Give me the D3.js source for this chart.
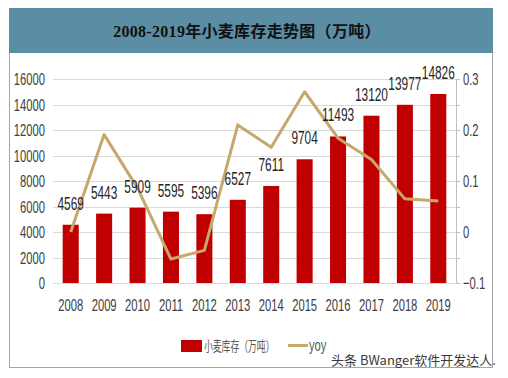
<!DOCTYPE html>
<html>
<head>
<meta charset="utf-8">
<script src="https://cdn.jsdelivr.net/npm/d3@7"></script>
<style>
  html, body { margin: 0; padding: 0; background: #fff; }
  svg { display: block; }
</style>
</head>
<body>
<div id="chart"></div>
<script>
/* wheat stock 2008-2019: bars (万吨) + yoy line on right axis */

const YEARS  = ['2008', '2009', '2010', '2011', '2012', '2013', '2014', '2015', '2016', '2017', '2018', '2019'];
const STOCK  = [4569, 5443, 5909, 5595, 5396, 6527, 7611, 9704, 11493, 13120, 13977, 14826];
const YOY    = [0.0, 0.191, 0.086, -0.053, -0.036, 0.21, 0.166, 0.275, 0.184, 0.142, 0.065, 0.061];
const LEFT_TICKS  = [0, 2000, 4000, 6000, 8000, 10000, 12000, 14000, 16000];
const RIGHT_TICKS = [-0.1, 0, 0.1, 0.2, 0.3];

const W = 508, H = 378;
const RED = '#c00000', GOLD = '#c8a76c';
const NARROW = "'Liberation Sans Narrow', 'Arial Narrow', 'Liberation Sans', sans-serif";
const SQ = 0.66;   // horizontal squash of the numeric labels

const svg = d3.select('#chart').append('svg')
  .attr('width', W).attr('height', H);

/* ── frame + header ── */
svg.append('rect')
  .attr('x', 9.5).attr('y', 8.5).attr('width', 483).attr('height', 359)
  .attr('fill', '#fff').attr('stroke', '#a6a6a6');
svg.append('rect')
  .attr('x', 9).attr('y', 8).attr('width', 484).attr('height', 45)
  .attr('fill', '#5b8ea4');
svg.append('text')
  .attr('x', 247).attr('y', 31).attr('dy', '0.36em')
  .attr('text-anchor', 'middle')
  .attr('font-family', "'Liberation Serif', 'Noto Sans CJK SC', serif")
  .attr('font-weight', 'bold').attr('font-size', 16)
  .attr('letter-spacing', 0.3)
  .attr('fill', '#111')
  .text('2008-2019年小麦库存走势图（万吨）');

/* ── scales ── */
const x = d3.scaleBand().domain(YEARS).range([54, 455]).paddingInner(0.52).paddingOuter(0.26);
const yL = d3.scaleLinear().domain([0, 16000]).range([283, 79]);
const yR = d3.scaleLinear().domain([-0.1, 0.3]).range([283, 79]);

/* squashed text helper */
function numText(g, tx, ty, anchor, str, size, sq = SQ, family = NARROW) {
  return g.append('text')
    .attr('transform', `translate(${tx},${ty}) scale(${sq},1)`)
    .attr('text-anchor', anchor)
    .attr('font-family', family)
    .attr('font-size', size)
    .attr('fill', '#404040')
    .text(str);
}

/* ── gridlines ── */
svg.append('g').selectAll('line')
  .data(LEFT_TICKS)
  .join('line')
  .attr('x1', 53).attr('x2', 456)
  .attr('y1', d => Math.round(yL(d)) + 0.5).attr('y2', d => Math.round(yL(d)) + 0.5)
  .attr('stroke', '#d9d9d9').attr('stroke-width', 1);

/* ── left axis labels ── */
const gl = svg.append('g');
LEFT_TICKS.forEach(t => numText(gl, 45, yL(t) + 6, 'end', t, 17));

/* ── right axis (line + ticks every 0.05) ── */
const gr = svg.append('g');
gr.append('line')
  .attr('x1', 456.5).attr('x2', 456.5).attr('y1', 79).attr('y2', 283)
  .attr('stroke', '#bfbfbf');
gr.selectAll('line.tk')
  .data(LEFT_TICKS)
  .join('line').attr('class', 'tk')
  .attr('x1', 456).attr('x2', 460)
  .attr('y1', d => Math.round(yL(d)) + 0.5).attr('y2', d => Math.round(yL(d)) + 0.5)
  .attr('stroke', '#bfbfbf');
RIGHT_TICKS.forEach(t => numText(gr, 463, yR(t) + 6, 'start', d3.format('.1~f')(t), 17));

/* ── x labels ── */
const gx = svg.append('g');
YEARS.forEach(yr => numText(gx, x(yr) + x.bandwidth() / 2, 311, 'middle', yr, 17));

/* ── bars ── */
svg.append('g').selectAll('rect')
  .data(STOCK)
  .join('rect')
  .attr('x', (d, i) => x(YEARS[i]))
  .attr('y', d => yL(d))
  .attr('width', x.bandwidth())
  .attr('height', d => yL(0) - yL(d))
  .attr('fill', RED);

/* ── yoy line ── */
svg.append('path')
  .datum(YOY)
  .attr('d', d3.line()
    .x((d, i) => x(YEARS[i]) + x.bandwidth() / 2)
    .y(d => yR(d)))
  .attr('fill', 'none')
  .attr('stroke', GOLD)
  .attr('stroke-width', 3)
  .attr('stroke-linejoin', 'round');

/* ── value labels ── */
const gv = svg.append('g');
STOCK.forEach((v, i) => numText(gv, x(YEARS[i]) + x.bandwidth() / 2, yL(v) - 15, 'middle', v, 18)
  .attr('fill', '#262626'));

/* ── legend ── */
const lg = svg.append('g');
lg.append('rect').attr('x', 181).attr('y', 340).attr('width', 21).attr('height', 12).attr('fill', RED);
numText(lg, 204, 351, 'start', '小麦库存（万吨）', 14, 0.63, "'Noto Sans CJK SC', sans-serif")
  .attr('fill', '#595959');
lg.append('line')
  .attr('x1', 288).attr('x2', 308).attr('y1', 345.5).attr('y2', 345.5)
  .attr('stroke', GOLD).attr('stroke-width', 3);
numText(lg, 309, 351, 'start', 'yoy', 17).attr('fill', '#595959');

/* ── watermark ── */
svg.append('text')
  .attr('x', 331).attr('y', 360).attr('dy', '0.36em')
  .attr('font-family', "'Noto Sans CJK SC', sans-serif")
  .attr('font-size', 13).attr('fill', '#3a3a3a')
  .text('头条 BWanger软件开发达人.');
</script>
</body>
</html>
